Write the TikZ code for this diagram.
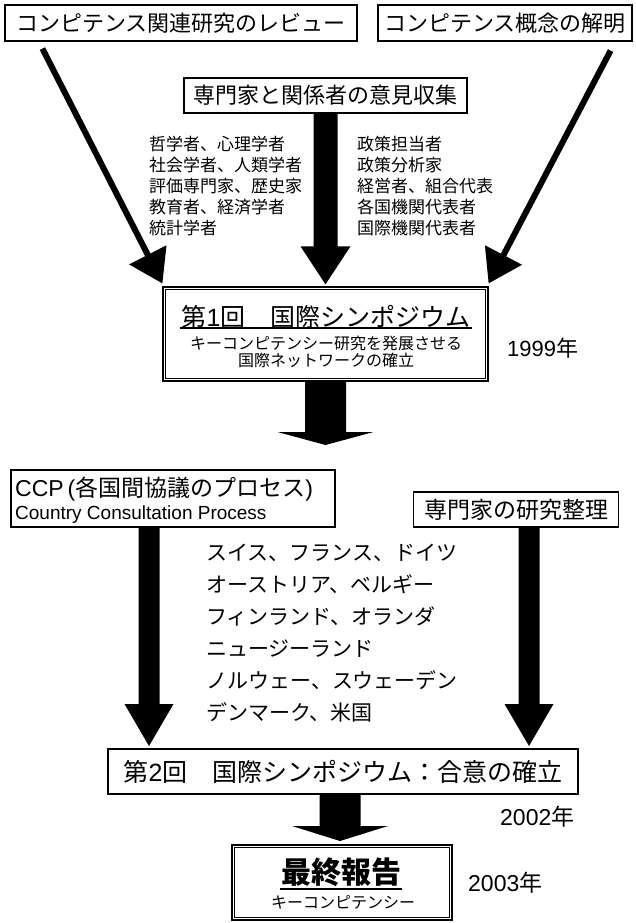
\documentclass[tikz,border=0pt]{standalone}
\usepackage{fontspec}
\setmainfont{Noto Sans CJK JP}
\newfontfamily\lib{Liberation Sans}
\usetikzlibrary{calc}
\newcommand\fs[1]{\fontsize{#1}{#1}\selectfont}
% #1 start (node anchor), #2 tip coordinate, #3 shaft half width, #4 head half width, #5 head length
\newcommand\blockarr[5]{%
  \fill let \p1=(#1), \p2=(#2) in
    (\x2-#3pt,\y1) -- (\x2+#3pt,\y1) -- (\x2+#3pt,\y2+#5pt) -- (\x2+#4pt,\y2+#5pt)
    -- (\x2,\y2) -- (\x2-#4pt,\y2+#5pt) -- (\x2-#3pt,\y2+#5pt) -- cycle;}
\begin{document}
\begin{tikzpicture}[x=1pt,y=-1pt,
  box/.style={draw, line width=1.2pt, inner sep=0pt},
  dbox/.style={draw, line width=1.3pt, inner sep=0pt},
  inner/.style={draw, line width=0.8pt},
  txt/.style={inner sep=0pt}]
\useasboundingbox (0,0) rectangle (635,923);

% top boxes
\node[box, minimum width=352pt, minimum height=36pt] (b1) at (181,23) {\fs{22}コンピテンス関連研究のレビュー};
\node[box, minimum width=254pt, minimum height=36pt] (b2) at (505,23) {\fs{22}コンピテンス概念の解明};
\node[box, minimum width=283pt, minimum height=35pt] (b3) at (325.5,95.5) {\fs{22}専門家と関係者の意見収集};

% lists
\node[txt, anchor=west, align=left, font=\fontsize{17}{21}\selectfont] (lstL) at (149,186)
  {哲学者、心理学者\\社会学者、人類学者\\評価専門家、歴史家\\教育者、経済学者\\統計学者};
\node[txt, anchor=west, align=left, font=\fontsize{17}{21}\selectfont] (lstR) at (357,186)
  {政策担当者\\政策分析家\\経営者、組合代表\\各国機関代表者\\国際機関代表者};

% symposium 1
\node[dbox, minimum width=325pt, minimum height=94pt] (s1) at (325.5,334) {};
\draw[inner] ($(s1.north west)+(3.5,3.5)$) rectangle ($(s1.south east)+(-3.5,-3.5)$);
\node[txt, font=\fs{25}] (s1t) at (326,317) {第{\lib 1}回　国際シンポジウム};
\draw[line width=1.3pt] (180,328) -- (472,328);
\node[txt, align=center, font=\fontsize{16}{17}\selectfont] (s1s) at (326,351.5)
  {キーコンピテンシー研究を発展させる\\国際ネットワークの確立};
\node[txt, anchor=west, font=\fs{22}] (y1) at (507,348) {{\lib 1999}年};

% arrows into symposium 1
\coordinate (t3) at ($(s1.north)+(0,-2)$);
\blockarr{b3.south}{t3}{12}{25}{38}

\coordinate (d1s) at ($(b1.south west)+(38,7)$);
\coordinate (d1t) at ($(s1.north west)+(0,-3)$);
\coordinate (d1b) at ($(d1t)!32pt!(d1s)$);
\draw[line width=6pt] (d1s) -- ($(d1t)!26pt!(d1s)$);
\fill (d1t) -- ($(d1b)!21pt!90:(d1s)$) -- ($(d1b)!21pt!-90:(d1s)$) -- cycle;

\coordinate (d2s) at ($(b2.south east)+(-22,9)$);
\coordinate (d2t) at ($(s1.north east)+(0,-3)$);
\coordinate (d2b) at ($(d2t)!32pt!(d2s)$);
\draw[line width=6pt] (d2s) -- ($(d2t)!26pt!(d2s)$);
\fill (d2t) -- ($(d2b)!21pt!90:(d2s)$) -- ($(d2b)!21pt!-90:(d2s)$) -- cycle;

% big arrow down
\coordinate (t4) at (325.5,445);
\blockarr{s1.south}{t4}{20.5}{48}{13}

% CCP box
\node[box, minimum width=324pt, minimum height=57pt] (ccp) at (173,498.5) {};
\node[txt, anchor=west, font=\fs{23}] (ccp1) at (15,489) {{\lib CCP\,(}各国間協議のプロセス{\lib )}};
\node[txt, anchor=west, font=\lib\fs{19}] (ccp2) at (15,515) {Country Consultation Process};

\node[box, minimum width=205pt, minimum height=35pt] (sk) at (516,509.5) {\fs{23}専門家の研究整理};

% countries
\node[txt, anchor=west, align=left, font=\fontsize{21}{32}\selectfont] (ctry) at (206,633)
  {スイス、フランス、ドイツ\\オーストリア、ベルギー\\フィンランド、オランダ\\ニュージーランド\\ノルウェー、スウェーデン\\デンマーク、米国};

% symposium 2
\node[box, minimum width=470pt, minimum height=45pt] (s2) at (343,771.5) {\fs{25}第{\lib 2}回　国際シンポジウム：合意の確立};
\node[txt, anchor=west, font=\fs{23}] (y2) at (500,817) {{\lib 2002}年};

\coordinate (t5) at (149,746);
\blockarr{ccp.south}{t5}{10.5}{24.5}{42}
\coordinate (t6) at (529,746);
\blockarr{sk.south}{t6}{10.5}{24.5}{42}

% final
\node[dbox, minimum width=220pt, minimum height=75pt] (fin) at (342,882.5) {};
\draw[inner] ($(fin.north west)+(3.5,3.5)$) rectangle ($(fin.south east)+(-3.5,-3.5)$);
\node[txt, font=\fs{30}\bfseries] (fint) at (341,872) {最終報告};
\draw[line width=1.3pt] (280,889) -- (402,889);
\node[txt, font=\fs{16}] (fins) at (343,902) {キーコンピテンシー};
\node[txt, anchor=west, font=\fs{23}] (y3) at (468,883) {{\lib 2003}年};

\coordinate (t7) at (340,841);
\blockarr{s2.south}{t7}{20.5}{48}{15}
\end{tikzpicture}
\end{document}
